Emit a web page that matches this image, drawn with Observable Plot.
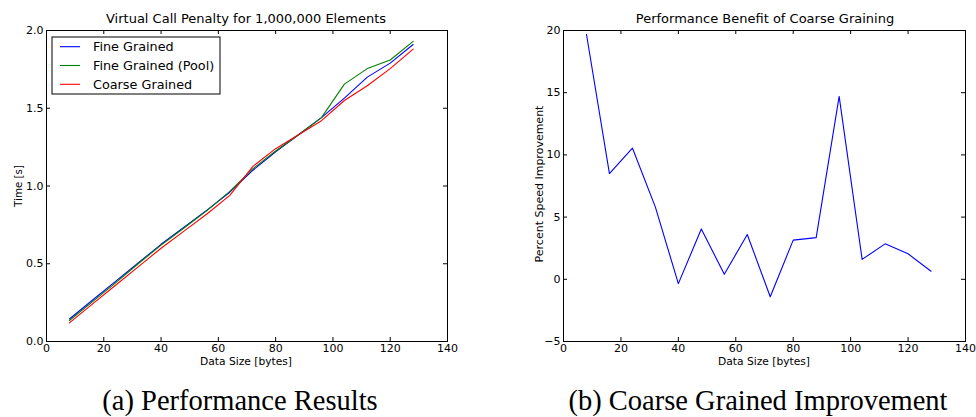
<!DOCTYPE html>
<html><head><meta charset="utf-8">
<script src="https://cdn.jsdelivr.net/npm/d3@7"></script>
<script src="https://cdn.jsdelivr.net/npm/@observablehq/plot@0.6"></script>
<style>
html,body{margin:0;padding:0;background:#fff;}
#wrap{position:relative;width:976px;height:417px;overflow:hidden;background:#fff;}
.plot{position:absolute;top:0;}
#overlay{position:absolute;left:0;top:0;pointer-events:none;}
</style></head><body><div id="wrap"></div>
<script>
// ---- data ----
const sizes = [8,16,24,32,40,48,56,64,72,80,88,96,104,112,120,128];
const fineGrained     = [0.145,0.265,0.385,0.505,0.625,0.735,0.845,0.96,1.10,1.22,1.33,1.44,1.565,1.70,1.79,1.91];
const fineGrainedPool = [0.135,0.255,0.375,0.50,0.62,0.73,0.842,0.965,1.11,1.225,1.33,1.44,1.655,1.755,1.81,1.93];
const coarseGrained   = [0.12,0.24,0.36,0.48,0.60,0.71,0.82,0.94,1.125,1.24,1.33,1.42,1.55,1.645,1.755,1.88];
const improvement     = [19.7,8.5,10.55,5.8,-0.35,4.05,0.4,3.6,-1.4,3.15,3.35,14.7,1.6,2.85,2.05,0.65];
const seriesNames  = ["Fine Grained","Fine Grained (Pool)","Coarse Grained"];
const seriesColors = ["#0000ff","#008000","#ff0000"];
const xTicks    = [0,20,40,60,80,100,120,140];
const timeTicks = [0,0.5,1,1.5,2];
const pctTicks  = [-5,0,5,10,15,20];
const titles    = ["Virtual Call Penalty for 1,000,000 Elements","Performance Benefit of Coarse Graining"];
const xLabel    = "Data Size [bytes]";
const yLabels   = ["Time [s]","Percent Speed Improvement"];
const captions  = ["(a) Performance Results","(b) Coarse Grained Improvement"];

// ---- build tables ----
const seriesValues = [fineGrained, fineGrainedPool, coarseGrained];
const timeRows = seriesNames.flatMap((name, i) => sizes.map((s, j) => ({size: s, time: seriesValues[i][j], series: name})));
const pctRows = sizes.map((s, j) => ({size: s, pct: improvement[j]}));

const W = 488, H = 370, mT = 30, mB = 29, tickLen = 4;
const wrap = document.getElementById("wrap");

function chart({rows, y, yDomain, yTicks, yFormat, marginLeft, marginRight, color, stroke, left}) {
  const innerW = W - marginLeft - marginRight, innerH = H - mT - mB;
  const p = Plot.plot({
    width: W, height: H, marginTop: mT, marginBottom: mB, marginLeft, marginRight,
    style: {fontFamily: "DejaVu Sans", fontSize: "11px", color: "#000", background: "transparent", overflow: "visible"},
    x: {domain: [0, 140]},
    y: {domain: yDomain},
    color,
    marks: [
      Plot.line(rows, {x: "size", y, stroke, z: color ? "series" : undefined, strokeWidth: 1.1}),
      Plot.frame({stroke: "#000", strokeWidth: 1}),
      Plot.axisX(xTicks, {anchor: "bottom", tickSize: 0, tickPadding: 3, label: null, fontSize: 11}),
      Plot.axisY(yTicks, {anchor: "left", tickSize: 0, tickPadding: 3, tickFormat: yFormat, label: null, fontSize: 11}),
      Plot.tickX(xTicks, {x: d => d, insetTop: innerH - tickLen, stroke: "#000"}),
      Plot.tickX(xTicks, {x: d => d, insetBottom: innerH - tickLen, stroke: "#000"}),
      Plot.tickY(yTicks, {y: d => d, insetRight: innerW - tickLen, stroke: "#000"}),
      Plot.tickY(yTicks, {y: d => d, insetLeft: innerW - tickLen, stroke: "#000"})
    ]
  });
  p.classList.add("plot");
  p.style.left = left + "px";
  wrap.appendChild(p);
}

chart({rows: timeRows, y: "time", yDomain: [0, 2], yTicks: timeTicks, yFormat: d3.format(".1f"),
  marginLeft: 46, marginRight: 41, color: {domain: seriesNames, range: seriesColors}, stroke: "series", left: 0});
chart({rows: pctRows, y: "pct", yDomain: [-5, 20], yTicks: pctTicks, yFormat: d3.format("d"),
  marginLeft: 75, marginRight: 11, color: undefined, stroke: "#0000ff", left: 488});

// ---- overlay text: titles, axis labels, legend, captions ----
const ns = "http://www.w3.org/2000/svg";
const svg = document.createElementNS(ns, "svg");
svg.setAttribute("id", "overlay");
svg.setAttribute("width", 976); svg.setAttribute("height", 417);
wrap.appendChild(svg);
function txt(str, attrs) {
  const t = document.createElementNS(ns, "text");
  for (const k in attrs) t.setAttribute(k, attrs[k]);
  t.textContent = str;
  svg.appendChild(t);
  return t;
}
function el(name, attrs) {
  const e = document.createElementNS(ns, name);
  for (const k in attrs) e.setAttribute(k, attrs[k]);
  svg.appendChild(e);
  return e;
}
const sans = "DejaVu Sans";
txt(titles[0], {x: 246, y: 23, "text-anchor": "middle", "font-family": sans, "font-size": 13});
txt(titles[1], {x: 765, y: 23, "text-anchor": "middle", "font-family": sans, "font-size": 13});
txt(xLabel, {x: 246, y: 365, "text-anchor": "middle", "font-family": sans, "font-size": 10.7});
txt(xLabel, {x: 764, y: 365, "text-anchor": "middle", "font-family": sans, "font-size": 10.7});
txt(yLabels[0], {transform: "translate(21.5,186) rotate(-90)", "text-anchor": "middle", "font-family": sans, "font-size": 10.3});
txt(yLabels[1], {transform: "translate(542.5,184) rotate(-90)", "text-anchor": "middle", "font-family": sans, "font-size": 11});

el("rect", {x: 52, y: 37, width: 168, height: 57, fill: "#fff", stroke: "#000", "stroke-width": 1});
seriesNames.forEach((name, i) => {
  const cy = 46.7 + i * 18.8;
  el("line", {x1: 60, x2: 80, y1: cy, y2: cy, stroke: seriesColors[i], "stroke-width": 1.1});
  txt(name, {x: 93, y: cy + 4.6, "font-family": sans, "font-size": 12.8});
});

txt(captions[0], {x: 240, y: 410, "text-anchor": "middle", "font-family": "Liberation Serif", "font-size": 28.5});
txt(captions[1], {x: 758, y: 410, "text-anchor": "middle", "font-family": "Liberation Serif", "font-size": 28.5});
</script>
</body></html>
